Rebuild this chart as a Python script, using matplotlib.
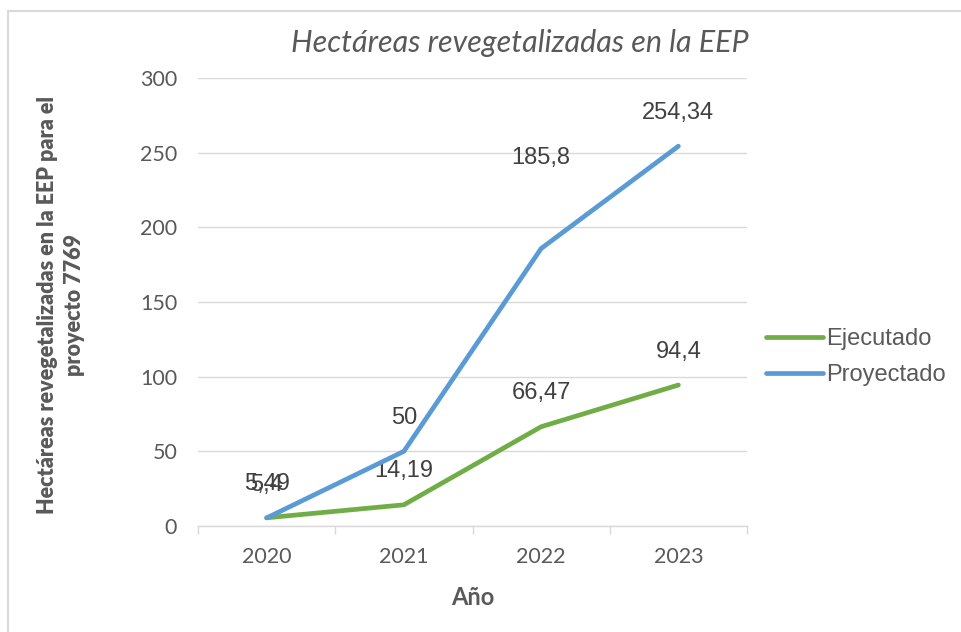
import matplotlib
matplotlib.use('Agg')
import matplotlib.pyplot as plt
from matplotlib.lines import Line2D

# hectares revegetated per year
years = ['2020', '2021', '2022', '2023']
ejecutado = [5.49, 14.19, 66.47, 94.4]
proyectado = [5.4, 50, 185.8, 254.34]

green = '#70AD47'
blue = '#5B9BD5'
grey_txt = '#595959'
grid_c = '#D9D9D9'

fig = plt.figure(figsize=(9.61, 6.32), dpi=100)
ax = fig.add_axes([198 / 961, 106 / 632, 549 / 961, 448 / 632])

x = list(range(len(years)))
ax.plot(x, ejecutado, color=green, lw=3.4, solid_capstyle='round', zorder=3)
ax.plot(x, proyectado, color=blue, lw=3.4, solid_capstyle='round', zorder=4)

# value labels above each point (the 2022 projected one sits higher)
lab_font = dict(family='Liberation Sans', size=17, color='#404040')
for i, v in enumerate(ejecutado):
    ax.annotate('{:g}'.format(v).replace('.', ','), (i, v), xytext=(0, 24),
                textcoords='offset points', ha='center', va='center', **lab_font)
extra = {2: 65}
for i, v in enumerate(proyectado):
    ax.annotate('{:g}'.format(v).replace('.', ','), (i, v), xytext=(0, extra.get(i, 24)),
                textcoords='offset points', ha='center', va='center', **lab_font)

ax.set_xlim(-0.5, 3.5)
ax.set_ylim(0, 300)
ax.set_yticks(range(0, 301, 50))
ax.set_xticks(x)
ax.set_xticklabels(years)
ax.set_xticks([-0.5, 0.5, 1.5, 2.5, 3.5], minor=True)
ax.tick_params(axis='x', which='major', length=0, pad=15)
ax.tick_params(axis='x', which='minor', length=6, width=1, color=grid_c, direction='out')
ax.tick_params(axis='y', length=0, pad=15)
for lab in ax.get_xticklabels() + ax.get_yticklabels():
    lab.set_family('Lato')
    lab.set_fontsize(15.5)
    lab.set_color(grey_txt)

ax.grid(axis='y', color=grid_c, lw=1)
ax.set_axisbelow(True)
for s in ['top', 'right', 'left']:
    ax.spines[s].set_visible(False)
ax.spines['bottom'].set_color(grid_c)
ax.spines['bottom'].set_linewidth(1)

ax.set_xlabel('Año', family='Lato', fontweight='bold', fontsize=17,
              color=grey_txt, labelpad=14)
fig.text(61 / 961, 1 - 305 / 632,
         'Hectáreas revegetalizadas en la EEP para el\nproyecto 7769',
         rotation=90, ha='center', va='center', family='Lato',
         fontweight='heavy', fontsize=15.5, color=grey_txt, linespacing=1.35)

fig.text(520 / 961, 1 - 43 / 632, 'Hectáreas revegetalizadas en la EEP',
         ha='center', va='center', family='Lato', style='italic',
         fontsize=22, color=grey_txt)

handles = [Line2D([], [], color=green, lw=3.4, solid_capstyle='round'),
           Line2D([], [], color=blue, lw=3.4, solid_capstyle='round')]
fig.legend(handles, ['Ejecutado', 'Proyectado'], loc='center left',
           bbox_to_anchor=(745 / 961, 1 - 357 / 632), frameon=False,
           prop={'family': 'Liberation Sans', 'size': 17},
           labelcolor=grey_txt, handlelength=2.4, handletextpad=0.15,
           labelspacing=0.6)

# outer chart border
fig.add_artist(Line2D([8 / 961, 1], [1 - 11 / 632] * 2, color=grid_c, lw=1.5))
fig.add_artist(Line2D([8 / 961] * 2, [0, 1 - 11 / 632], color=grid_c, lw=1.5))

fig.savefig('out.png', dpi=100)
plt.close(fig)
